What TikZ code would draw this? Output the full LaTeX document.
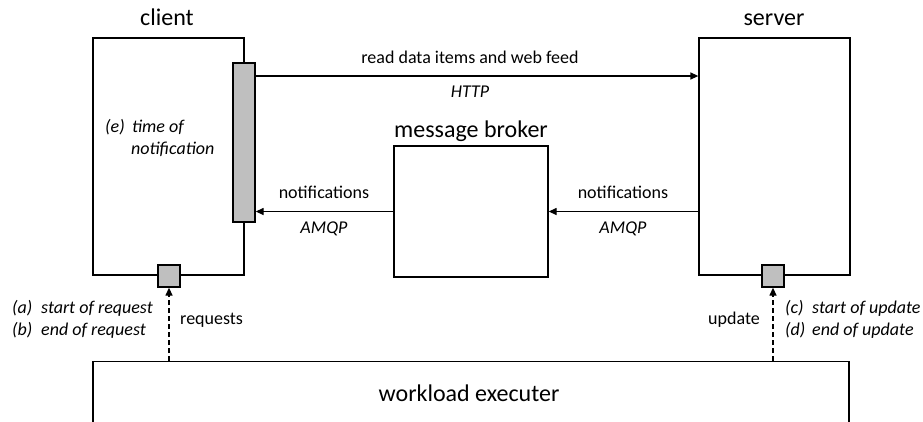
\documentclass[tikz,border=0pt]{standalone}
\usepackage{fontspec}
\setmainfont{Carlito}
\usetikzlibrary{arrows.meta}

\tikzset{
  box/.style={draw, line width=1.3pt, fill=white, inner sep=0pt},
  greybox/.style={draw, line width=1.3pt, fill=black!25, inner sep=0pt},
  arr/.style={line width=1.3pt, -{Triangle[length=8pt,width=7pt]}},
  dasharr/.style={line width=1.3pt, dash pattern=on 5pt off 3pt, -{Triangle[length=8pt,width=7pt]}},
  big/.style={inner sep=0pt, font=\fontsize{24}{29}\selectfont},
  small/.style={inner sep=0pt, font=\fontsize{18}{22}\selectfont},
  smallit/.style={inner sep=0pt, font=\fontsize{18}{22}\selectfont\itshape},
}

\begin{document}
\begin{tikzpicture}[x=1pt, y=-1pt]
  \clip (0,0) rectangle (923,421);
  \useasboundingbox (0,0) rectangle (923,421);

  % main components
  \node[box, minimum width=151pt, minimum height=237pt] (client) at (168.5,156.5) {};
  \node[box, minimum width=151pt, minimum height=237pt] (server) at (774.5,156.5) {};
  \node[box, minimum width=154pt, minimum height=131pt] (broker) at (471,211.5) {};
  \node[box, minimum width=756pt, minimum height=120pt, anchor=north] (wl) at (471,361) {};

  % notification receiver on the client and the two measurement points
  \node[greybox, minimum width=22pt, minimum height=159pt] (bar) at (244,142.5) {};
  \node[greybox, minimum width=22pt, minimum height=22pt] (csq) at (169,276) {};
  \node[greybox, minimum width=22pt, minimum height=22pt] (ssq) at (773,276) {};

  % titles
  \node[big, anchor=base] (tclient) at (167,25) {client};
  \node[big, anchor=base] (tserver) at (774,25) {server};
  \node[big, anchor=base] (tbroker) at (471,137) {message broker};
  \node[big, anchor=base] (twl) at (469,401) {workload executer};

  % HTTP request from client to server
  \coordinate (hy) at (0,76);
  \draw[arr] (bar.east |- hy) -- (server.west |- hy);
  \node[small, anchor=base] (lread) at (470,63) {read data items and web feed};
  \node[smallit, anchor=base] (lhttp) at (470,97) {HTTP};

  % notifications via the broker
  \draw[arr] (server.west |- broker.east) -- (broker.east);
  \draw[arr] (broker.west) -- (bar.east |- broker.west);
  \node[small, anchor=base] (lnot1) at (324,198) {notifications};
  \node[smallit, anchor=base] (lamqp1) at (324,233) {AMQP};
  \node[small, anchor=base] (lnot2) at (623,198) {notifications};
  \node[smallit, anchor=base] (lamqp2) at (623,233) {AMQP};

  % workload executer drives the client and the server
  \draw[dasharr] (wl.north -| csq) -- (csq.south);
  \draw[dasharr] (wl.north -| ssq) -- (ssq.south);
  \node[small, anchor=base west] (lreq) at (180,324) {requests};
  \node[small, anchor=base east] (lupd) at (760,324) {update};

  % measurement points
  \node[smallit, anchor=base west] (la) at (12,313) {(a)};
  \node[smallit, anchor=base west] (la2) at (41,313) {start of request};
  \node[smallit, anchor=base west] (lb) at (12,335) {(b)};
  \node[smallit, anchor=base west] (lb2) at (41,335) {end of request};

  \node[smallit, anchor=base west] (lc) at (785,313) {(c)};
  \node[smallit, anchor=base west] (lc2) at (812,313) {start of update};
  \node[smallit, anchor=base west] (ld) at (785,335) {(d)};
  \node[smallit, anchor=base west] (ld2) at (812,335) {end of update};

  \node[smallit, anchor=base west] (le) at (105,132) {(e)};
  \node[smallit, anchor=base west] (le2) at (132,132) {time of};
  \node[smallit, anchor=base west] (le3) at (131,154) {notification};
\end{tikzpicture}
\end{document}
